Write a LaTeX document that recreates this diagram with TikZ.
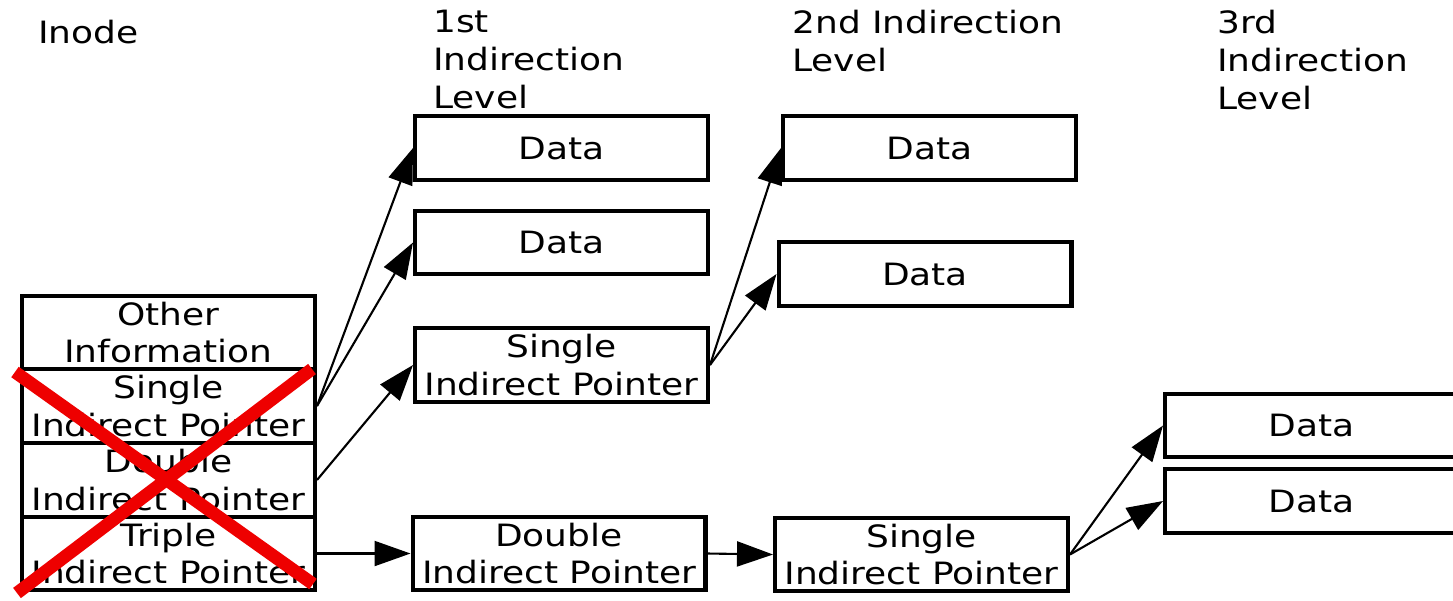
\documentclass[tikz,border=0pt]{standalone}
\usepackage{fontspec}
\setmainfont{DejaVu Sans}[FakeStretch=1.17]
\usetikzlibrary{arrows.meta}
\definecolor{crossred}{RGB}{238,0,0}
\tikzset{
  blk/.style={draw=black, line width=2.3pt, fill=white, align=center, inner sep=0pt,
              minimum width=5.86cm, font=\fontsize{17.5}{21.5}\selectfont},
  blkrow/.style={blk, minimum height=1.47cm},
  blkdata/.style={blk, minimum height=1.27cm},
  hdr/.style={anchor=north west, align=left, inner sep=0pt,
              font=\fontsize{17.5}{21.5}\selectfont},
  ptr/.style={-{Triangle[length=0.72cm,width=0.5cm]}, line width=1.2pt},
  xout/.style={draw=crossred, line width=7.3pt},
}
\newcommand{\CIN}{168.5}
\newcommand{\COA}{561.5}
\newcommand{\COB}{925}
\newcommand{\COC}{1311.5}

\begin{document}
\begin{tikzpicture}[x=0.02cm, y=-0.02cm]
    \useasboundingbox (0,0) rectangle (1453,600);

      \node[hdr] (hinode) at (38,20) {Inode};
      \node[hdr] (hlvla) at (433,10) {1st\\Indirection\\Level};
      \node[hdr] (hlvlb) at (792,10) {2nd Indirection\\Level};
      \node[hdr] (hlvlc) at (1217,10) {3rd\\Indirection\\Level};

      \node[blkrow] (iother) at (\CIN,332.5) {Other\\Information};
      \node[blkrow] (isingle) at (\CIN,406) {Single\\Indirect Pointer};
      \node[blkrow] (idouble) at (\CIN,480) {Double\\Indirect Pointer};
      \node[blkrow] (itriple) at (\CIN,553.5) {Triple\\Indirect Pointer};

      \node[blkdata] (adataa) at (\COA,148) {Data};
      \node[blkdata] (adatab) at (\COA,242.5) {Data};
      \node[blkrow] (asingle) at (\COA,365) {Single\\Indirect Pointer};
      \node[blkrow] (adouble) at (559,553.5) {Double\\Indirect Pointer};

      \node[blkdata] (bdataa) at (929.5,148) {Data};
      \node[blkdata] (bdatab) at (\COB,274) {Data};
      \node[blkrow] (bsingle) at (921.5,554.5) {Single\\Indirect Pointer};

      \node[blkdata] (cdataa) at (\COC,425.5) {Data};
      \node[blkdata] (cdatab) at (\COC,501) {Data};

      \draw[ptr] (isingle.east) -- (adataa.west);
      \draw[ptr] (isingle.east) -- (adatab.west);
      \draw[ptr] (idouble.east) -- (asingle.west);
      \draw[ptr] (itriple.east) -- (adouble.west);
      \draw[ptr] (asingle.east) -- (bdataa.west);
      \draw[ptr] (asingle.east) -- (bdatab.west);
      \draw[ptr] (adouble.east) -- (bsingle.west);
      \draw[ptr] (bsingle.east) -- (cdataa.west);
      \draw[ptr] (bsingle.east) -- (cdatab.west);

      \draw[xout] (15,372) -- (313,584);
      \draw[xout] (312,369) -- (17,593);

    \end{tikzpicture}
\end{document}
